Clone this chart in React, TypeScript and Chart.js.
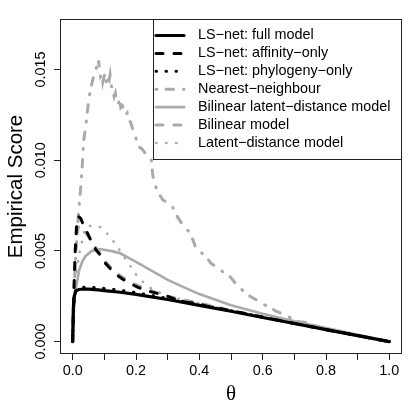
import React, { useEffect, useRef } from "react";
import { Chart, registerables } from "chart.js";

Chart.register(...registerables);

// ---------- axis ticks ----------
const xTickValues = [0, 0.1, 0.2, 0.3, 0.4, 0.5, 0.6, 0.7, 0.8, 0.9, 1.0];
const xTickLabels = ["0.0", "", "0.2", "", "0.4", "", "0.6", "", "0.8", "", "1.0"];
const yTickValues = [0, 0.005, 0.01, 0.015];
const yTickLabels = ["0.000", "0.005", "0.010", "0.015"];

const xTitle = "\u03B8";
const yTitle = "Empirical Score";

const seriesNames = [
  "LS\u2212net: full model",
  "LS\u2212net: affinity\u2212only",
  "LS\u2212net: phylogeny\u2212only",
  "Nearest\u2212neighbour",
  "Bilinear latent\u2212distance model",
  "Bilinear model",
  "Latent\u2212distance model",
];

// ---------- series data ----------
const fullTheta = [0, 0.002, 0.005, 0.01, 0.02, 0.035, 0.05, 0.08, 0.1, 0.15, 0.2, 0.3, 0.4, 0.5, 0.6, 0.7, 0.8, 0.9, 1.0];
const fullScore = [0, 0.0018, 0.0025, 0.0028, 0.00287, 0.0029, 0.00289, 0.00285, 0.00281, 0.00272, 0.0026, 0.00232, 0.002, 0.00167, 0.00133, 0.001, 0.00066, 0.00033, 0];

const affinityTheta = [0, 0.004, 0.008, 0.012, 0.018, 0.025, 0.035, 0.046, 0.06, 0.072, 0.09, 0.104, 0.125, 0.145, 0.17, 0.205, 0.235, 0.264, 0.3, 0.322, 0.35, 0.38, 0.45, 0.5, 0.6, 0.7, 0.8, 0.9, 1.0];
const affinityScore = [0, 0.0028, 0.005, 0.0063, 0.0069, 0.0068, 0.0064, 0.006, 0.0055, 0.0051, 0.0047, 0.0043, 0.0039, 0.0036, 0.0033, 0.003, 0.0028, 0.00267, 0.0025, 0.00235, 0.0022, 0.00212, 0.00186, 0.0017, 0.00135, 0.001, 0.00066, 0.00033, 0];

const phyloTheta = [0, 0.003, 0.006, 0.01, 0.02, 0.035, 0.05, 0.08, 0.1, 0.15, 0.2, 0.3, 0.4, 0.5, 0.6, 0.7, 0.8, 0.9, 1.0];
const phyloScore = [0, 0.0017, 0.0025, 0.0028, 0.00296, 0.003, 0.003, 0.00297, 0.00293, 0.00283, 0.0027, 0.00238, 0.00205, 0.0017, 0.00135, 0.001, 0.00066, 0.00033, 0];

const nnTheta = [0, 0.005, 0.01, 0.015, 0.02, 0.025, 0.03, 0.035, 0.042, 0.051, 0.061, 0.07, 0.075, 0.079, 0.082, 0.085, 0.088, 0.092, 0.095, 0.099, 0.103, 0.107, 0.111, 0.115, 0.118, 0.122, 0.127, 0.131, 0.135, 0.139, 0.144, 0.148, 0.152, 0.157, 0.162, 0.167, 0.172, 0.177, 0.183, 0.188, 0.193, 0.198, 0.204, 0.212, 0.22, 0.228, 0.236, 0.243, 0.249, 0.252, 0.256, 0.263, 0.27, 0.278, 0.285, 0.296, 0.306, 0.316, 0.33, 0.345, 0.36, 0.37, 0.38, 0.39, 0.4, 0.42, 0.438, 0.455, 0.47, 0.496, 0.515, 0.538, 0.56, 0.58, 0.597, 0.62, 0.64, 0.665, 0.69, 0.715, 0.739, 0.76, 0.8, 0.9, 1.0];
const nnScore = [0, 0.003, 0.0048, 0.0062, 0.0074, 0.0084, 0.0096, 0.0111, 0.01195, 0.0134, 0.01425, 0.0149, 0.0151, 0.015, 0.0155, 0.0149, 0.0146, 0.0147, 0.0143, 0.0146, 0.0148, 0.0142, 0.0145, 0.0144, 0.0147, 0.0141, 0.0138, 0.0135, 0.0137, 0.0133, 0.0131, 0.0134, 0.0129, 0.013, 0.0128, 0.0125, 0.0126, 0.0122, 0.0121, 0.0118, 0.0115, 0.0113, 0.011, 0.0107, 0.0106, 0.0104, 0.0103, 0.0101, 0.01, 0.0093, 0.0088, 0.0085, 0.0082, 0.008, 0.0078, 0.0077, 0.0076, 0.0074, 0.0069, 0.0065, 0.0062, 0.006, 0.0056, 0.0051, 0.005, 0.0047, 0.0043, 0.0041, 0.0039, 0.0036, 0.0032, 0.0028, 0.0025, 0.0023, 0.0021, 0.0019, 0.0017, 0.0015, 0.0013, 0.0011, 0.00105, 0.0009, 0.00066, 0.00033, 0];

const bldTheta = [0, 0.005, 0.01, 0.02, 0.03, 0.04, 0.06, 0.085, 0.12, 0.15, 0.2, 0.25, 0.3, 0.35, 0.4, 0.5, 0.6, 0.7, 0.8, 0.9, 1.0];
const bldScore = [0, 0.0022, 0.0029, 0.0039, 0.0044, 0.0047, 0.005, 0.0051, 0.005, 0.00487, 0.0044, 0.0039, 0.0034, 0.003, 0.00262, 0.002, 0.00153, 0.00112, 0.00075, 0.00037, 0];

const bilinearTheta = [0, 0.004, 0.008, 0.012, 0.018, 0.025, 0.035, 0.046, 0.06, 0.072, 0.09, 0.104, 0.125, 0.145, 0.17, 0.205, 0.235, 0.264, 0.3, 0.35, 0.4, 0.5, 0.6, 0.7, 0.8, 0.9, 1.0];
const bilinearScore = [0, 0.0028, 0.0046, 0.0057, 0.0063, 0.0064, 0.0062, 0.0059, 0.0055, 0.0052, 0.0048, 0.0044, 0.004, 0.0037, 0.0034, 0.0031, 0.0029, 0.0027, 0.0025, 0.0023, 0.00212, 0.00172, 0.00136, 0.00102, 0.00067, 0.00034, 0];

const ldTheta = [0, 0.005, 0.01, 0.02, 0.028, 0.04, 0.06, 0.088, 0.112, 0.13, 0.146, 0.165, 0.185, 0.2, 0.221, 0.25, 0.3, 0.35, 0.4, 0.5, 0.6, 0.7, 0.8, 0.9, 1.0];
const ldScore = [0, 0.0025, 0.0035, 0.0048, 0.0054, 0.0063, 0.0064, 0.0063, 0.0059, 0.0055, 0.0051, 0.0046, 0.0041, 0.0037, 0.0033, 0.0029, 0.0025, 0.0023, 0.0021, 0.00172, 0.00136, 0.00102, 0.00067, 0.00034, 0];

const BLACK = "#000000";
const GREY = "#aaaaaa";
const FONT = '"Liberation Sans", Arial, Helvetica, sans-serif';

const toPts = (t: number[], v: number[]) => t.map((x, i) => ({ x, y: v[i] }));

const rStylePlugin = {
  id: "rStyle",
  afterDatasetsDraw(chart: any) {
    const { ctx, chartArea: a, scales } = chart;
    const xs = scales.x;
    const ys = scales.y;
    ctx.save();
    // plot box
    ctx.strokeStyle = "#222";
    ctx.lineWidth = 1;
    ctx.setLineDash([]);
    ctx.strokeRect(a.left + 0.5, a.top + 0.5, a.right - a.left - 1, a.bottom - a.top - 1);

    // tick labels
    ctx.fillStyle = "#000";
    ctx.font = `14.4px ${FONT}`;
    ctx.textAlign = "center";
    ctx.textBaseline = "middle";
    xTickValues.forEach((v, i) => {
      if (xTickLabels[i]) ctx.fillText(xTickLabels[i], xs.getPixelForValue(v), a.bottom + 17.5);
    });
    yTickValues.forEach((v, i) => {
      ctx.save();
      ctx.translate(a.left - 19, ys.getPixelForValue(v));
      ctx.rotate(-Math.PI / 2);
      ctx.fillText(yTickLabels[i], 0, 0);
      ctx.restore();
    });

    // axis titles
    ctx.font = `20.5px ${FONT}`;
    ctx.save();
    ctx.translate(16, (a.top + a.bottom) / 2);
    ctx.rotate(-Math.PI / 2);
    ctx.fillText(yTitle, 0, 0);
    ctx.restore();
    ctx.font = `21px "Liberation Serif", "DejaVu Serif", serif`;
    ctx.fillText(xTitle, (a.left + a.right) / 2, a.bottom + 40);

    // legend (top right, R style)
    const lw = 249;
    const lh = 141;
    const lx = a.right - lw;
    const ly = a.top;
    ctx.fillStyle = "#fff";
    ctx.fillRect(lx, ly, lw, lh);
    ctx.strokeStyle = "#222";
    ctx.lineWidth = 1;
    ctx.strokeRect(lx + 0.5, ly + 0.5, lw - 1, lh - 1);
    ctx.font = `14.4px ${FONT}`;
    ctx.textAlign = "left";
    chart.data.datasets.forEach((ds: any, i: number) => {
      const y = ly + 16.5 + i * 17.9;
      ctx.save();
      ctx.strokeStyle = ds.borderColor;
      ctx.lineWidth = ds.borderWidth;
      ctx.lineCap = ds.borderCapStyle || "butt";
      ctx.setLineDash(ds.borderDash || []);
      ctx.beginPath();
      ctx.moveTo(lx + 3, y);
      ctx.lineTo(lx + 31, y);
      ctx.stroke();
      ctx.restore();
      ctx.fillStyle = "#000";
      ctx.fillText(ds.label, lx + 45, y);
    });
    ctx.restore();
  },
};

export default function App() {
  const canvasRef = useRef<HTMLCanvasElement | null>(null);

  useEffect(() => {
    if (!canvasRef.current) return;
    const common = { pointRadius: 0, tension: 0, fill: false };
    const chart = new Chart(canvasRef.current, {
      type: "line",
      data: {
        datasets: [
          { ...common, label: seriesNames[0], data: toPts(fullTheta, fullScore), borderColor: BLACK, borderWidth: 3.2, borderCapStyle: "round" },
          { ...common, label: seriesNames[1], data: toPts(affinityTheta, affinityScore), borderColor: BLACK, borderWidth: 3, borderDash: [7, 11], borderCapStyle: "round" },
          { ...common, label: seriesNames[2], data: toPts(phyloTheta, phyloScore), borderColor: BLACK, borderWidth: 3, borderDash: [0.5, 9.5], borderCapStyle: "round" },
          { ...common, label: seriesNames[3], data: toPts(nnTheta, nnScore), borderColor: GREY, borderWidth: 3, borderDash: [1, 9, 7.5, 10], borderCapStyle: "round" },
          { ...common, label: seriesNames[4], data: toPts(bldTheta, bldScore), borderColor: GREY, borderWidth: 2.6, borderCapStyle: "round" },
          { ...common, label: seriesNames[5], data: toPts(bilinearTheta, bilinearScore), borderColor: GREY, borderWidth: 3, borderDash: [7, 11], borderCapStyle: "round" },
          { ...common, label: seriesNames[6], data: toPts(ldTheta, ldScore), borderColor: GREY, borderWidth: 2.5, borderDash: [0.5, 9.5], borderCapStyle: "round" },
        ],
      },
      options: {
        responsive: false,
        animation: false,
        devicePixelRatio: 1,
        events: [],
        layout: { padding: { top: 19, right: 13, bottom: 0, left: 0 } },
        plugins: { legend: { display: false }, tooltip: { enabled: false } },
        scales: {
          x: {
            type: "linear",
            min: -0.04,
            max: 1.04,
            afterBuildTicks: (s: any) => { s.ticks = xTickValues.map((value) => ({ value })); },
            afterFit: (s: any) => { s.height = 61; },
            ticks: { display: false },
            grid: { display: true, drawOnChartArea: false, drawTicks: true, tickLength: 6, color: "#222", lineWidth: 1 },
            border: { display: false },
          },
          y: {
            type: "linear",
            min: -0.000684,
            max: 0.017784,
            afterBuildTicks: (s: any) => { s.ticks = yTickValues.map((value) => ({ value })); },
            afterFit: (s: any) => { s.width = 60; },
            ticks: { display: false },
            grid: { display: true, drawOnChartArea: false, drawTicks: true, tickLength: 6, color: "#222", lineWidth: 1 },
            border: { display: false },
          },
        },
      },
      plugins: [rStylePlugin],
    } as any);
    return () => chart.destroy();
  }, []);

  return (
    <div style={{ position: "fixed", left: 0, top: 0, width: 415, height: 415, background: "#fff" }}>
      <canvas ref={canvasRef} width={415} height={415} style={{ display: "block" }} />
    </div>
  );
}
